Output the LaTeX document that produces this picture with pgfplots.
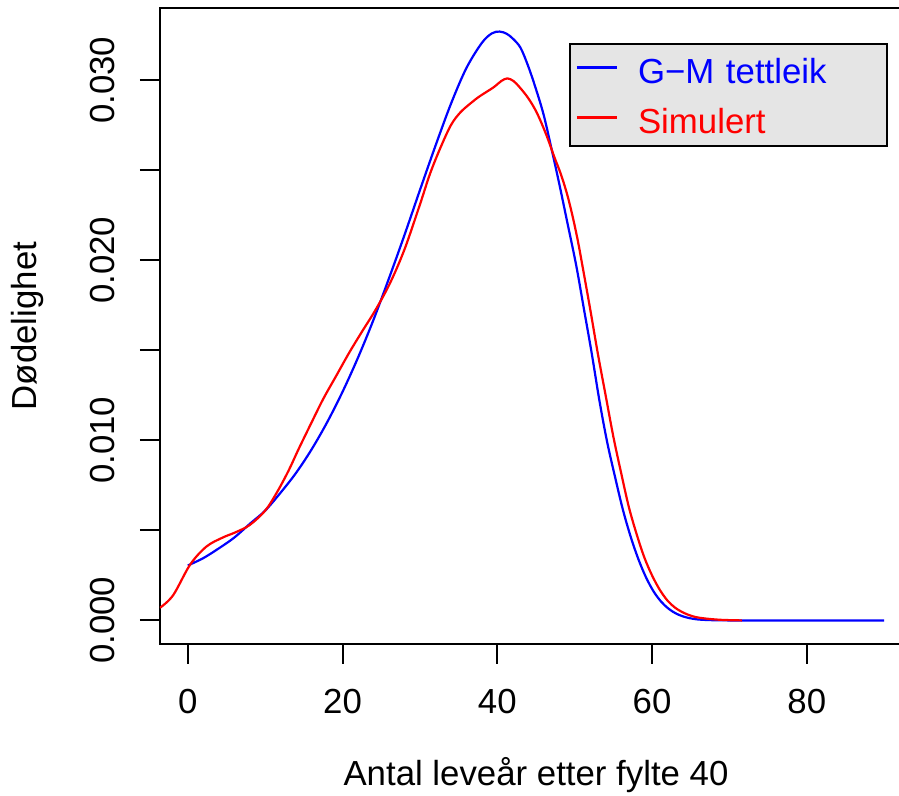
\documentclass[border=0pt]{standalone}
\usepackage{fontspec}
\setmainfont{Liberation Sans}
\usepackage{pgfplots}
\pgfplotsset{compat=1.18}
\begin{document}
\fontsize{17.4pt}{20pt}\selectfont
\begin{tikzpicture}
\begin{axis}[name=ax, scale only axis, width=376pt, height=318pt,
  xmin=-3.6, xmax=93.6, ymin=-0.00131, ymax=0.03401,
  axis line style={black, line width=1pt},
  tick style={black, line width=1pt}, tick align=outside, major tick length=10pt,
  xtick={0,20,40,60,80}, ytick={0,0.005,0.01,0.015,0.02,0.025,0.03},
  yticklabels={0.000,,0.010,,0.020,,0.030},
  scaled y ticks=false,
  xtick pos=bottom, ytick pos=left,
  font=\fontsize{17.4pt}{20pt}\selectfont,
  /pgf/number format/assume math mode=true,
  xticklabel style={anchor=north, inner sep=0pt},
  yticklabel style={rotate=90, anchor=south, inner sep=0pt},
  xticklabel shift=12.5pt, yticklabel shift=12.5pt,
  xlabel={Antal leveår etter fylte 40},
  ylabel={Dødelighet},
  xlabel style={at={(axis description cs:0.5,-0.222)}, anchor=base},
  ylabel style={at={(axis description cs:-0.1636,0.5)}, anchor=base},
  legend style={at={(axis cs:90.5,0.03206)}, anchor=north east, fill=black!10, draw=black, line width=1pt,
    inner xsep=3pt, inner ysep=0.5pt, column sep=10pt,
    nodes={inner sep=0pt, text width=121.5pt, text height=19.2pt, text depth=5.8pt, align=left}},
  legend cell align=left,
  legend image code/.code={\draw[#1] (0pt,1.3pt) -- (20pt,1.3pt);},
]
\addplot[blue, line width=1.1pt, smooth, tension=0.55] coordinates {
(0,0.00305) (2,0.00346) (4,0.0040) (6,0.0046) (8,0.00536) (10,0.0061) (12,0.0071) (14,0.0082) (16,0.0095) (18,0.0110) (20,0.0127) (22,0.0146) (24,0.0167) (26,0.0190) (28,0.0214) (30,0.0239) (32,0.02635) (34,0.02868) (36,0.03067) (38,0.03207) (39.3,0.0326) (40.3,0.0327) (41.2,0.03258) (42,0.03231) (43,0.0318) (44,0.03077) (45,0.0295) (46,0.02806) (47,0.0262) (48,0.02426) (49,0.0222) (50.2,0.01971) (51.2,0.01728) (52.2,0.01484) (53.2,0.0122) (54.2,0.0099) (55.2,0.0080) (56.2,0.0062) (57.2,0.00470) (58.2,0.00344) (59.2,0.00241) (60.2,0.00161) (61.2,0.00103) (62.2,0.00063) (63.2,0.00036) (64.5,0.00016) (66,0.00005) (68,0.00001) (70,0) (75,0) (80,0) (85,0) (90,0)
};
\addlegendentry{\textcolor{blue}{G−M tettleik}}
\addplot[red, line width=1.1pt, smooth, tension=0.55] coordinates {
(-3.6,0.0007) (-1.9,0.0014) (0.3,0.0031) (2.4,0.0041) (4.5,0.0046) (6.2,0.0049) (8,0.0053) (10,0.0061) (11.5,0.0071) (13,0.0083) (14.3,0.0095) (16,0.0110) (17.5,0.0123) (19.2,0.0136) (20.9,0.0149) (22.6,0.0161) (24.2,0.0172) (26.1,0.0187) (28,0.0206) (30,0.0231) (31.3,0.0248) (32.6,0.0262) (34,0.0275) (35.2,0.0282) (36.5,0.0287) (37.7,0.0291) (39.5,0.0296) (40.5,0.02995) (41.3,0.0301) (42.1,0.02995) (42.9,0.0296) (44,0.0290) (45.1,0.0282) (46.3,0.0270) (47.4,0.0257) (48.2,0.0248) (49,0.0237) (49.7,0.0225) (50.4,0.0211) (51,0.0197) (52,0.0173) (53,0.0148) (54,0.0125) (55,0.0102) (56,0.0082) (57,0.0063) (58,0.0048) (59,0.0035) (60,0.0025) (61,0.0017) (62,0.0011) (63,0.0007) (64.2,0.0004) (65.5,0.0002) (67,0.0001) (69,0.00003) (71.6,0)
};
\addlegendentry{\textcolor{red}{Simulert}}
\end{axis}
\pgfresetboundingbox
\useasboundingbox ([xshift=-80pt,yshift=-76pt]ax.south west) rectangle ([xshift=369.5pt,yshift=322pt]ax.south west);
\end{tikzpicture}
\end{document}
